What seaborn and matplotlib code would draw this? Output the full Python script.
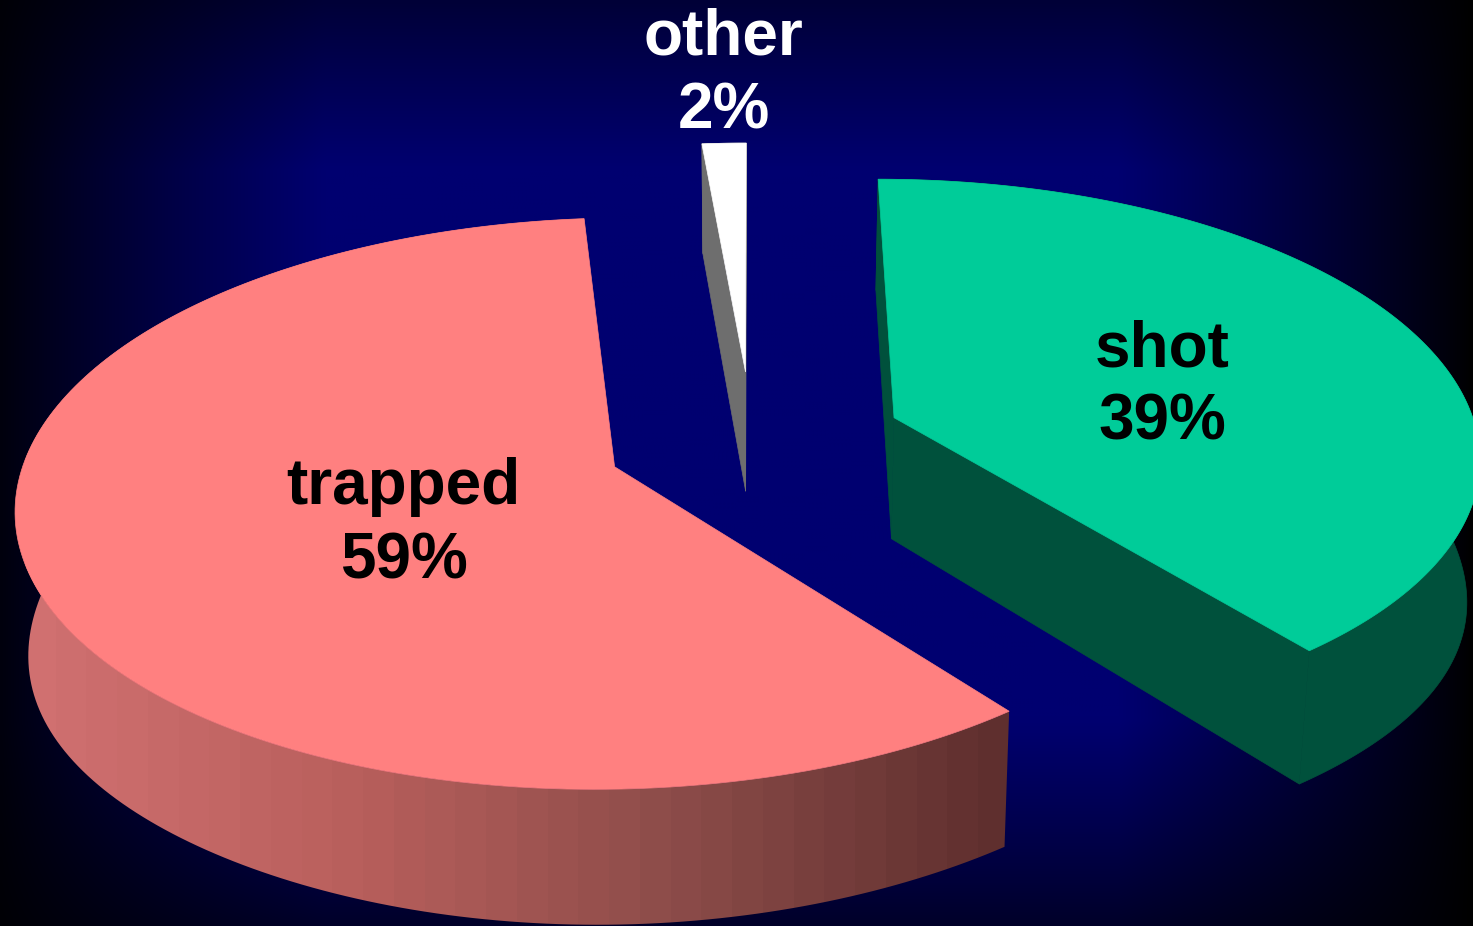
import numpy as np
import seaborn as sns
import matplotlib.pyplot as plt
from matplotlib.patches import Polygon

sns.set_theme(style='white')
plt.rcParams['font.family'] = ['Liberation Sans', 'DejaVu Sans']

categories = ['shot', 'trapped', 'other']
shares = [39.3, 59.3, 1.4]
percent_labels = ['39%', '59%', '2%']
top_colors = ['#00cc99', '#ff8080', '#ffffff']
side_colors = ['#00513c', None, '#6e6e6e']
label_colors = ['black', 'black', 'white']

# pie geometry, in pixels of the 1473x926 picture
CX, CY = 752, 441
RX = 585
RY = 2157
DEPTH = 7.86
explode = [0.26, 0.25, 0.26]
WALL = 122
WALL_D = 11
SAG = 20
label_r = [0.48, 0.39, 1.42]
label_shift = [(14, 10), (10, 16), (7, 13)]


def project(u, v, bottom=False):
    s = DEPTH / (DEPTH + v)
    x = CX + RX * u * s
    y = CY - RY * v / (DEPTH + v)
    if bottom:
        x = CX + (x - CX) * 0.982
        y = y + WALL * WALL_D / (WALL_D + v)
    return np.column_stack([x, y])


fig, ax = plt.subplots(figsize=(14.73, 9.26), dpi=100)
fig.subplots_adjust(0, 0, 1, 1)
ax.set_xlim(0, 1473)
ax.set_ylim(926, 0)
ax.axis('off')

# background, navy fading to black towards the edges
xx, yy = np.meshgrid(np.linspace(0, 1, 368), np.linspace(0, 1, 232))
fx = np.clip(1 - np.abs(xx - 0.49) / 0.51, 0, 1) ** 0.85
fy = np.clip(1 - np.abs(yy - 0.48) / 0.62, 0, 1) ** 0.85
glow = np.clip(fx * 1.9, 0, 1) * np.clip(fy * 1.75, 0, 1)
bg = np.zeros(glow.shape + (3,))
bg[..., 2] = glow * 112 / 255
ax.imshow(bg, extent=(0, 1473, 926, 0), aspect='auto', zorder=0, interpolation='bilinear')

# banded shading of the big slice's rim
rim = np.array(sns.blend_palette(['#d07070', '#b85f5c', '#8c4c49', '#5f2f2e'], 32))
rim_img = rim[np.newaxis, :, :]

ends = 90 - np.cumsum(shares) * 3.6
starts = np.concatenate([[90], ends[:-1]])

for i in [2, 1, 0]:
    a0, a1 = np.radians(starts[i]), np.radians(ends[i])
    mid = (a0 + a1) / 2
    ou, ov = explode[i] * np.cos(mid), explode[i] * np.sin(mid)
    t = np.linspace(a0, a1, 200)
    u = ou + np.cos(t)
    v = ov + np.sin(t)

    top_arc = project(u, v)
    low_arc = project(u, v, True)
    # the rim hangs a little lower towards the sides of the pie
    low_arc[:, 1] += SAG * np.cos(t) ** 4
    vtop = project(np.array([ou]), np.array([ov]))
    vlow = project(np.array([ou]), np.array([ov]), True)

    walls = [
        np.vstack([top_arc, low_arc[::-1]]),
        np.vstack([vtop, top_arc[:1], low_arc[:1], vlow]),
        np.vstack([vtop, top_arc[-1:], low_arc[-1:], vlow]),
    ]
    if side_colors[i] is None:
        left, right = low_arc[:, 0].min() - 3, top_arc[:, 0].max()
        im = ax.imshow(rim_img, extent=(left, right, 926, 0), aspect='auto',
                       zorder=2, interpolation='nearest')
        im.set_clip_path(Polygon(walls[0], transform=ax.transData))
        ax.set_xlim(0, 1473)
        ax.set_ylim(926, 0)
    else:
        for w in walls:
            ax.add_patch(Polygon(w, fc=side_colors[i], ec=side_colors[i], lw=0.5, zorder=2))
    ax.add_patch(Polygon(np.vstack([vtop, top_arc]), fc=top_colors[i], ec=top_colors[i],
                         lw=0.5, zorder=3))

    lu = ou + label_r[i] * np.cos(mid)
    lv = ov + label_r[i] * np.sin(mid)
    lx, ly = project(np.array([lu]), np.array([lv]))[0]
    ax.text(lx + label_shift[i][0], ly + label_shift[i][1],
            f'{categories[i]}\n{percent_labels[i]}', color=label_colors[i],
            fontsize=46, fontweight='bold', ha='center', va='center',
            linespacing=1.29, zorder=5)

fig.savefig('out.png', dpi=100)
